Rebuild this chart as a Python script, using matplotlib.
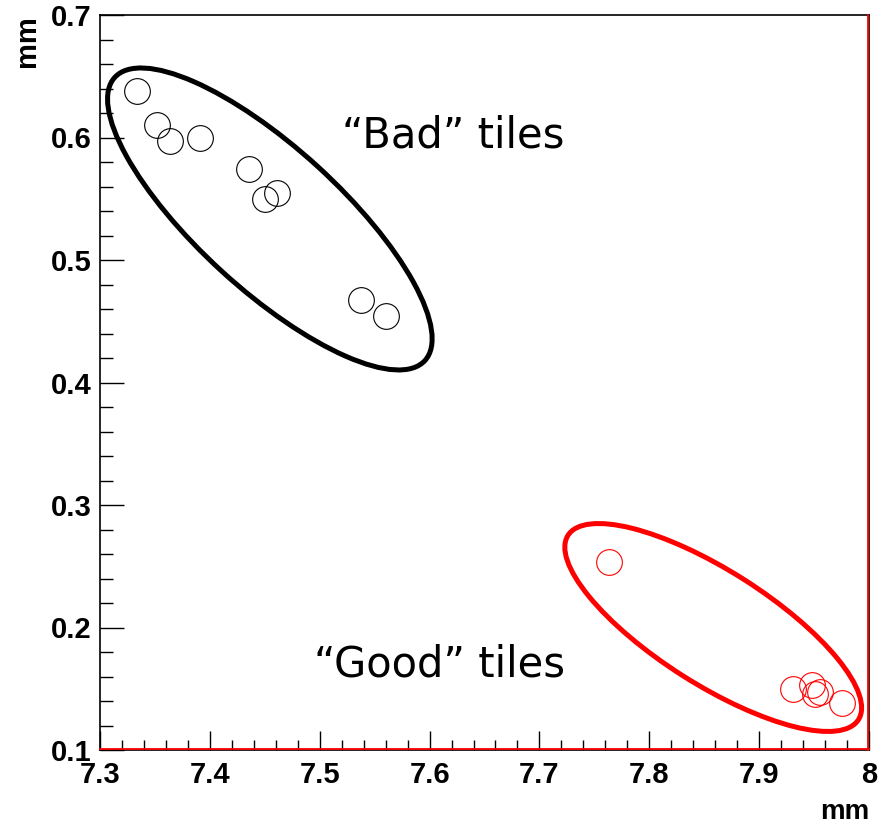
import numpy as np
import matplotlib
matplotlib.use('Agg')
import matplotlib.pyplot as plt
import matplotlib.patches as patches
import matplotlib.transforms as mtransforms
from matplotlib.ticker import MultipleLocator, FormatStrFormatter

# tile positions [mm]
bad_x = [7.334, 7.352, 7.364, 7.391, 7.436, 7.450, 7.461, 7.538, 7.560]
bad_y = [0.638, 0.610, 0.597, 0.600, 0.5745, 0.5495, 0.555, 0.467, 0.454]

good_x = [7.763, 7.931, 7.948, 7.951, 7.955, 7.975]
good_y = [0.2537, 0.1498, 0.1531, 0.1458, 0.1476, 0.1386]

XLim = [7.3, 8.0]
YLim = [0.1, 0.7]

# group outlines: centre [mm], semi-axes [px], angle [deg]
bad_ell = dict(center=(7.4546, 0.5335), a=210, b=71, angle=-42.4)
good_ell = dict(center=(7.8582, 0.2000), a=172, b=57, angle=-32.4)

fig = plt.figure(figsize=(8.91, 8.26), dpi=100)
ax = fig.add_axes([100/891, 76/826, 769/891, 735/826])

ax.plot(bad_x, bad_y, 'o', mfc='none', mec='k', ms=18.5, mew=0.8)
ax.plot(good_x, good_y, 'o', mfc='none', mec='r', ms=18.5, mew=0.8)

def add_outline(ell, color):
    trans = mtransforms.IdentityTransform() + \
        mtransforms.ScaledTranslation(ell['center'][0], ell['center'][1], ax.transData)
    e = patches.Ellipse((0, 0), 2*ell['a'], 2*ell['b'], angle=ell['angle'],
                        fill=False, edgecolor=color, linewidth=3.6, transform=trans)
    ax.add_patch(e)

add_outline(bad_ell, 'k')
add_outline(good_ell, 'r')

ax.text(7.7231, 0.5922, '\u201cBad\u201d tiles', ha='right', va='baseline',
        fontsize=30, family='DejaVu Sans')
ax.text(7.7231, 0.1596, '\u201cGood\u201d tiles', ha='right', va='baseline',
        fontsize=30, family='DejaVu Sans')

ax.set_xlim(XLim)
ax.set_ylim(YLim)

ax.xaxis.set_major_locator(MultipleLocator(0.1))
ax.xaxis.set_minor_locator(MultipleLocator(0.02))
ax.yaxis.set_major_locator(MultipleLocator(0.1))
ax.yaxis.set_minor_locator(MultipleLocator(0.02))
ax.xaxis.set_major_formatter(FormatStrFormatter('%g'))
ax.yaxis.set_major_formatter(FormatStrFormatter('%g'))

ax.tick_params(axis='both', which='both', direction='in', top=False, right=False, width=1.0)
ax.tick_params(axis='x', which='major', length=13.7, pad=8)
ax.tick_params(axis='x', which='minor', length=7.2)
ax.tick_params(axis='y', which='major', length=17, pad=6)
ax.tick_params(axis='y', which='minor', length=9.4)
for lab in ax.get_xticklabels() + ax.get_yticklabels():
    lab.set_fontfamily('Liberation Sans')
    lab.set_fontweight('bold')
    lab.set_fontsize(21)

for s in ax.spines.values():
    s.set_linewidth(1.2)
    s.set_color('k')

# red frame lines on bottom and right
off_up = mtransforms.offset_copy(ax.transData, fig=fig, x=0, y=1.2, units='dots')
off_left = mtransforms.offset_copy(ax.transData, fig=fig, x=-1.2, y=0, units='dots')
ax.plot(XLim, [YLim[0], YLim[0]], color='r', lw=1.3, transform=off_up, clip_on=False, zorder=5)
ax.plot([XLim[1], XLim[1]], YLim, color='r', lw=1.3, transform=off_left, clip_on=False, zorder=5)

fig.text(869/891, 7/826, 'mm', ha='right', va='baseline', fontsize=20,
         fontweight='bold', family='Liberation Sans')
fig.text(27/891, 1 - 15/826, 'mm', ha='center', va='top', rotation=90, fontsize=21,
         fontweight='bold', family='Liberation Sans')

fig.savefig('out.png', dpi=100)
